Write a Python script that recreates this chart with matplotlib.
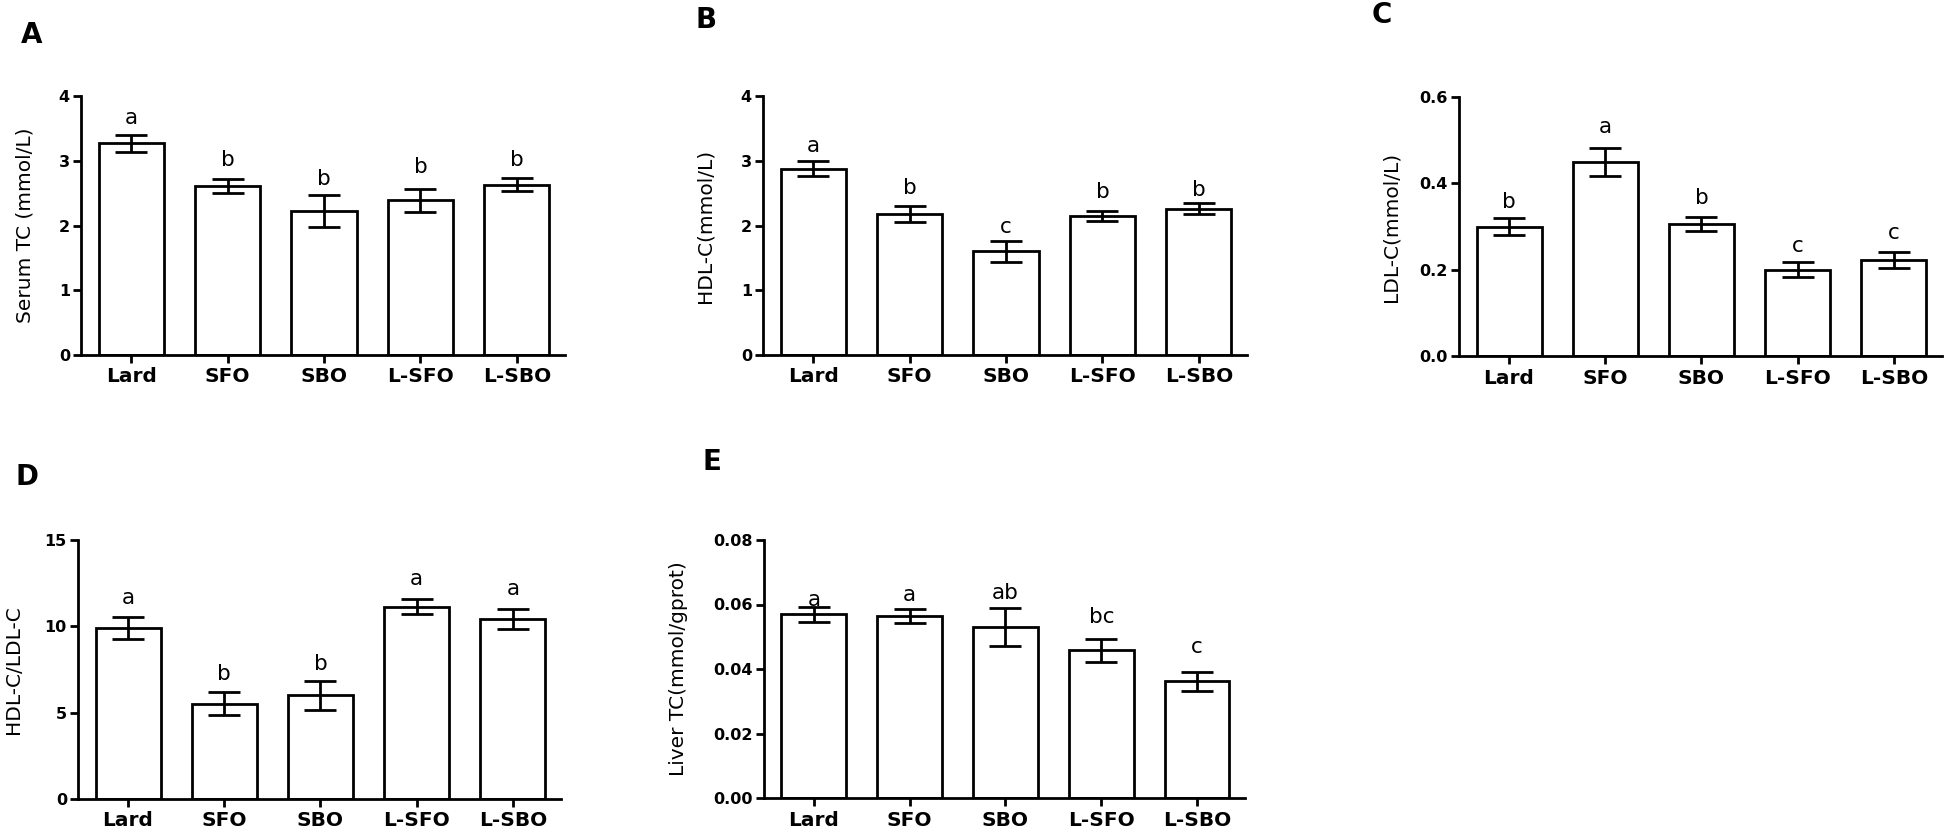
import matplotlib
matplotlib.use('Agg')
import matplotlib.pyplot as plt
from matplotlib.ticker import FormatStrFormatter, MultipleLocator

plt.rcParams['font.family'] = ['DejaVu Sans']

groups = ['Lard', 'SFO', 'SBO', 'L-SFO', 'L-SBO']

# Panel A: Serum TC
serum_tc = [3.27, 2.61, 2.22, 2.39, 2.63]
serum_tc_err = [0.13, 0.115, 0.25, 0.18, 0.10]
serum_tc_sig = ['a', 'b', 'b', 'b', 'b']
serum_tc_sig_y = [3.56, 2.92, 2.62, 2.81, 2.92]

# Panel B: HDL-C
hdl = [2.88, 2.18, 1.60, 2.15, 2.26]
hdl_err = [0.11, 0.12, 0.16, 0.08, 0.08]
hdl_sig = ['a', 'b', 'c', 'b', 'b']
hdl_sig_y = [3.14, 2.49, 1.89, 2.43, 2.46]

# Panel C: LDL-C
ldl = [0.300, 0.450, 0.305, 0.200, 0.223]
ldl_err = [0.019, 0.033, 0.016, 0.017, 0.019]
ldl_sig = ['b', 'a', 'b', 'c', 'c']
ldl_sig_y = [0.342, 0.516, 0.353, 0.241, 0.272]

# Panel D: HDL-C/LDL-C
ratio = [9.9, 5.52, 6.0, 11.13, 10.45]
ratio_err = [0.66, 0.66, 0.84, 0.44, 0.58]
ratio_sig = ['a', 'b', 'b', 'a', 'a']
ratio_sig_y = [11.32, 6.87, 7.49, 12.39, 11.81]

# Panel E: Liver TC
liver_tc = [0.0569, 0.0564, 0.0530, 0.0458, 0.0362]
liver_tc_err = [0.0022, 0.0022, 0.0059, 0.0035, 0.0029]
liver_tc_sig = ['a', 'a', 'ab', 'bc', 'c']
liver_tc_sig_y = [0.0595, 0.0611, 0.0616, 0.0543, 0.0450]

W, H = 1946, 827
fig = plt.figure(figsize=(W / 100, H / 100), dpi=100)

LW = 2.0


def add_panel(box, values, errs, sig, sig_y, ylabel, ylim, ystep, fmt,
              label_off, letter, letter_xy):
    left, top, right, bottom = box
    ax = fig.add_axes([left / W, 1 - bottom / H, (right - left) / W, (bottom - top) / H])
    x = list(range(len(groups)))
    ax.bar(x, values, width=0.675, color='white', edgecolor='black',
           linewidth=LW, zorder=2)
    ax.errorbar(x, values, yerr=errs, fmt='none', ecolor='black',
                elinewidth=LW, capsize=11.5, capthick=LW, zorder=3)
    for xi, s, yy in zip(x, sig, sig_y):
        ax.text(xi, yy, s, ha='center', va='baseline', fontsize=15.5, zorder=4)
    ax.set_xlim(-0.52, 4.5)
    ax.set_ylim(0, ylim)
    ax.yaxis.set_major_locator(MultipleLocator(ystep))
    ax.yaxis.set_major_formatter(FormatStrFormatter(fmt))
    ax.set_xticks(x)
    ax.set_xticklabels(groups, fontsize=14.5, fontweight='bold')
    for t in ax.get_yticklabels():
        t.set_fontweight('bold')
        t.set_fontsize(11.5)
    ax.spines['top'].set_visible(False)
    ax.spines['right'].set_visible(False)
    ax.spines['left'].set_linewidth(LW)
    ax.spines['bottom'].set_linewidth(LW)
    ax.tick_params(axis='both', direction='out', length=6, width=LW, color='black')
    ax.tick_params(axis='y', pad=2)
    ax.tick_params(axis='x', pad=3)
    ax.set_ylabel(ylabel, fontsize=14.5, va='center', ha='center')
    ax.yaxis.set_label_coords(-label_off / (right - left), 0.5)
    fig.text(letter_xy[0] / W, 1 - letter_xy[1] / H, letter, ha='center',
             va='center', fontsize=20, fontweight='bold')
    return ax


add_panel((81, 96, 565, 355), serum_tc, serum_tc_err, serum_tc_sig, serum_tc_sig_y,
          'Serum TC (mmol/L)', 4, 1, '%d', 56, 'A', (32, 35))
add_panel((763, 96, 1247, 355), hdl, hdl_err, hdl_sig, hdl_sig_y,
          'HDL-C(mmol/L)', 4, 1, '%d', 58, 'B', (706, 20))
add_panel((1459, 97, 1942, 356), ldl, ldl_err, ldl_sig, ldl_sig_y,
          'LDL-C(mmol/L)', 0.6, 0.2, '%.1f', 68, 'C', (1382, 15))
add_panel((78, 540, 561, 799), ratio, ratio_err, ratio_sig, ratio_sig_y,
          'HDL-C/LDL-C', 15, 5, '%d', 64, 'D', (27, 477))
add_panel((764, 540, 1245, 798), liver_tc, liver_tc_err, liver_tc_sig, liver_tc_sig_y,
          'Liver TC(mmol/gprot)', 0.08, 0.02, '%.2f', 85, 'E', (712, 462))

fig.savefig('out.png', dpi=100, facecolor='white')
